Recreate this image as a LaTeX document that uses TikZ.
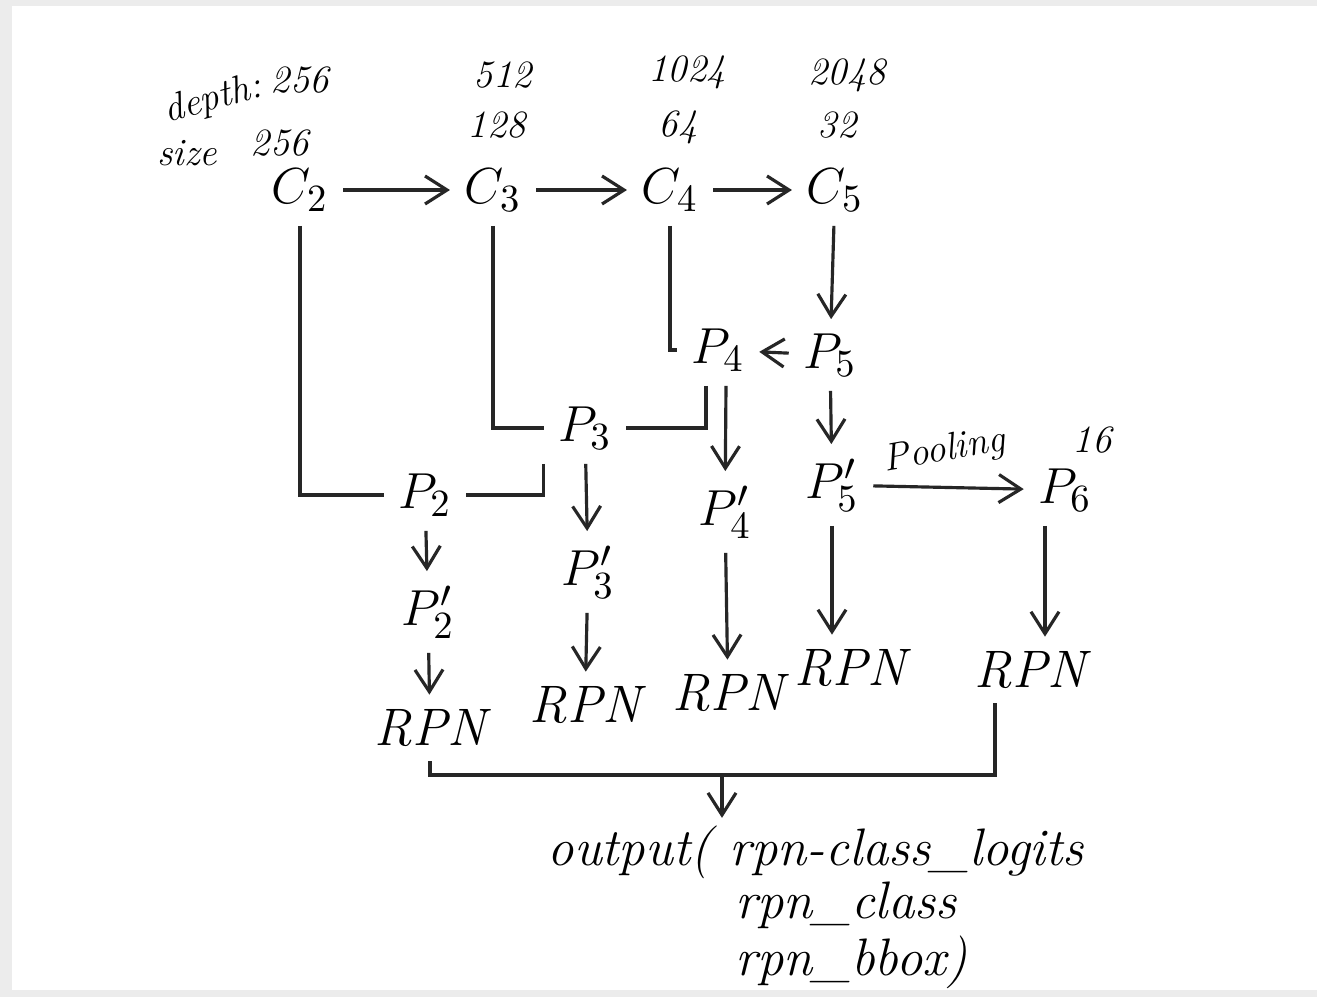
\documentclass[tikz,border=0pt]{standalone}
\usepackage{tikz}
\usetikzlibrary{arrows.meta}

\begin{document}
\begin{tikzpicture}[
  x=0.01cm, y=-0.01cm,
  lbl/.style={font=\fontsize{15}{17}\selectfont, inner sep=4pt},
  num/.style={font=\itshape\fontsize{11}{13}\selectfont, inner sep=1pt},
  rpnbox/.style={font=\itshape\fontsize{15}{17}\selectfont, inner sep=4pt},
  outtxt/.style={font=\itshape\fontsize{15}{17}\selectfont, inner sep=2pt, anchor=west},
  arr/.style={-{Straight Barb[length=2.2mm,width=2.8mm]}, line width=0.9pt, draw=black!85},
  ln/.style={line width=0.9pt, draw=black!85},
]
\useasboundingbox (0,0) rectangle (1317,997);
\fill[gray!15] (0,0) rectangle (1317,997);
\fill[white] (12,6) rectangle (1317,990);

% depth / size row
\node[num, rotate=15] (dlab) at (213,100) {depth:};
\node[num] (d2) at (300,80) {256};
\node[num] (slab) at (187,153) {size};
\node[num] (s2) at (280,143) {256};
\node[num] (d3) at (503,75) {512};
\node[num] (s3) at (497,125) {128};
\node[num] (d4) at (687,72) {1024};
\node[num] (s4) at (678,127) {64};
\node[num] (d5) at (847,75) {2048};
\node[num] (s5) at (837,125) {32};

% bottom-up path
\node[lbl] (c2) at (300,190) {$C_2$};
\node[lbl] (c3) at (493,190) {$C_3$};
\node[lbl] (c4) at (670,190) {$C_4$};
\node[lbl] (c5) at (835,190) {$C_5$};

% top-down path
\node[lbl] (p5) at (830,355) {$P_5$};
\node[lbl] (p4) at (718,350) {$P_4$};
\node[lbl] (p3) at (585,428) {$P_3$};
\node[lbl] (p2) at (425,495) {$P_2$};

\node[lbl] (p5p) at (832,485) {$P_5'$};
\node[lbl] (p4p) at (725,512) {$P_4'$};
\node[lbl] (p3p) at (588,572) {$P_3'$};
\node[lbl] (p2p) at (428,612) {$P_2'$};
\node[lbl] (p6) at (1065,490) {$P_6$};
\node[num] (n16) at (1092,440) {16};

\node[rpnbox] (rpn2) at (430,728) {RPN};
\node[rpnbox] (rpn3) at (585,705) {RPN};
\node[rpnbox] (rpn4) at (728,693) {RPN};
\node[rpnbox] (rpn5) at (850,668) {RPN};
\node[rpnbox] (rpn6) at (1030,670) {RPN};

\node[outtxt] (out) at (540,852) {output( rpn-class\_logits};
\node[outtxt] (out2) at (728,905) {rpn\_class};
\node[outtxt] (out3) at (728,962) {rpn\_bbox)};

\coordinate (join) at (722,775);

% connectors
\draw[arr] (c2) -- (c3);
\draw[arr] (c3) -- (c4);
\draw[arr] (c4) -- (c5);
\draw[arr] (c5) -- (p5);
\draw[arr] (p5) -- (p4);
\draw[ln] (c2) |- (p2);
\draw[ln] (c3) |- (p3);
\draw[ln] (c4) |- (p4);
\draw[ln] ([xshift=-0.12cm]p4.south) |- (p3);
\draw[ln] (p3.south west) |- (p2);
\draw[arr] (p5) -- (p5p);
\draw[arr] ([xshift=0.08cm]p4.south) -- (p4p);
\draw[arr] (p3) -- (p3p);
\draw[arr] (p2) -- (p2p);
\draw[arr] (p5p) -- node[num, above=4pt, rotate=10] (pool) {Pooling} (p6);
\draw[arr] (p2p) -- (rpn2);
\draw[arr] (p3p) -- (rpn3);
\draw[arr] (p4p) -- (rpn4);
\draw[arr] (p5p) -- (p5p |- rpn5.north);
\draw[arr] ([xshift=-0.2cm]p6.south) -- ([xshift=-0.2cm]p6.south |- rpn6.north);
\draw[ln] (rpn2) |- (join) -| ([xshift=-0.35cm]rpn6.south);
\draw[arr] (join) -- (join |- out.north);
\end{tikzpicture}
\end{document}
